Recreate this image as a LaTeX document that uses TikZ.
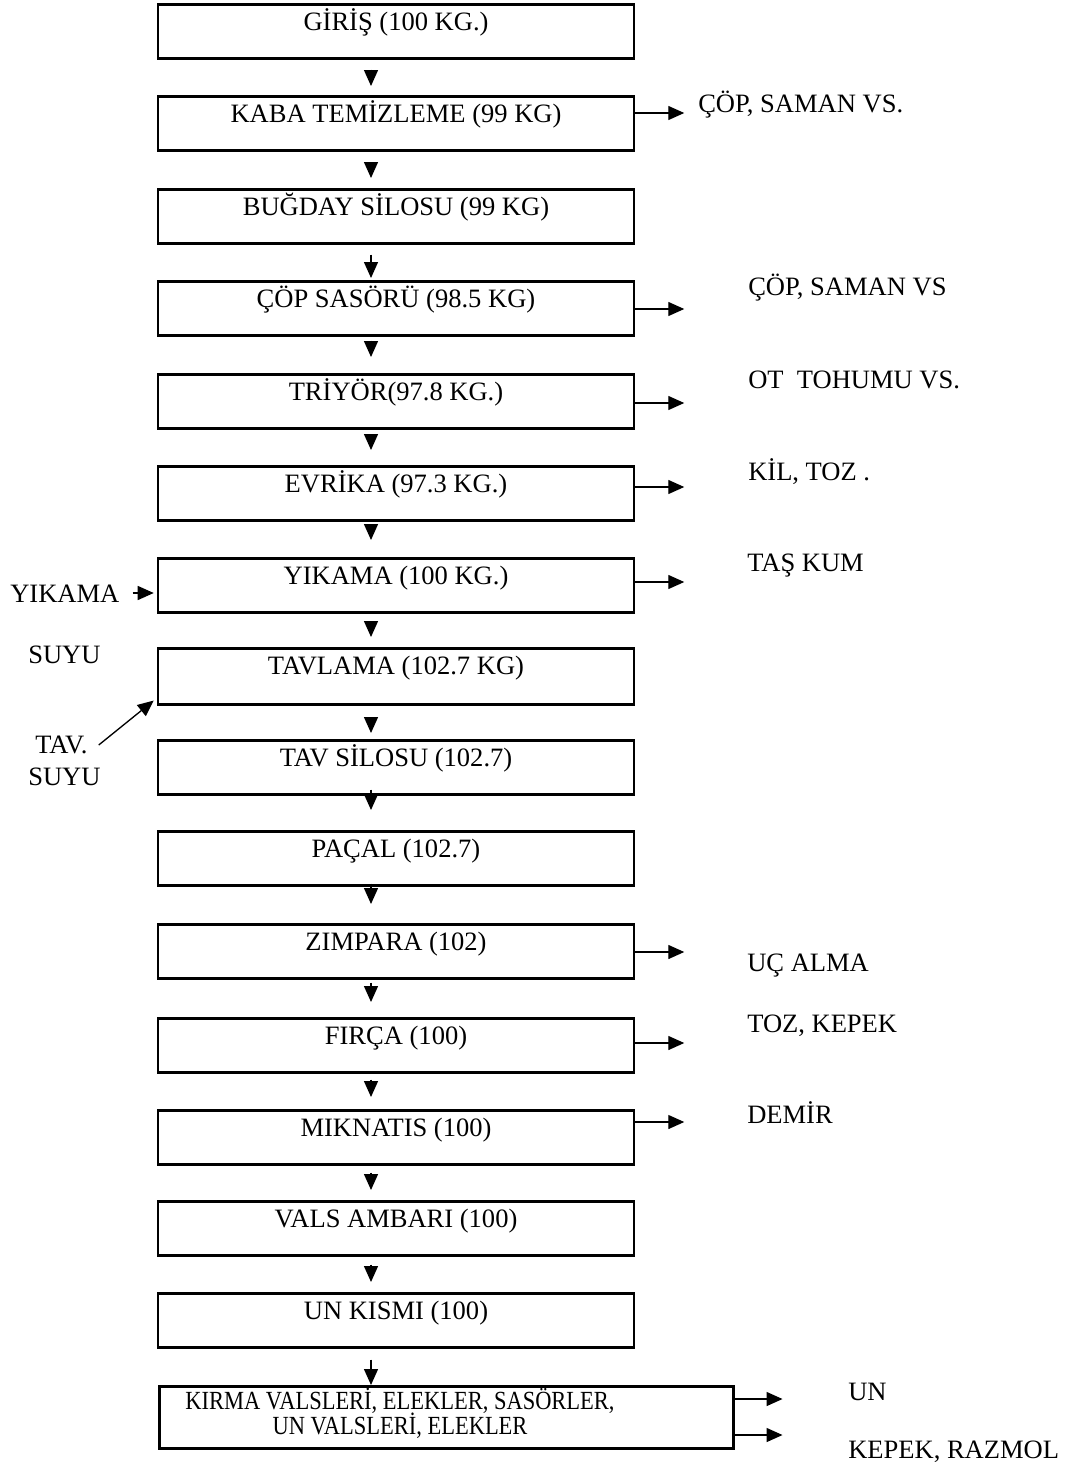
\documentclass[tikz,border=0pt]{standalone}
\usepackage{fontspec}
\setmainfont{Liberation Serif}
\newfontfamily\narrowserif[FakeStretch=0.86]{Liberation Serif}
\usetikzlibrary{arrows.meta,calc}
\begin{document}
\begin{tikzpicture}[x=0.75pt,y=-0.75pt,
  every node/.style={inner sep=0pt, font=\fontsize{19.9}{24}\selectfont},
  pbox/.style={draw, line width=1.9pt, minimum width=357pt, text height=19.5pt, text depth=21pt, anchor=north},
  arr/.style={line width=1pt, -{Triangle[length=12pt,width=10.5pt]}},
  side/.style={anchor=base west},
  small/.style={font=\narrowserif\fontsize{19.6}{24}\selectfont}]
\useasboundingbox (0,0) rectangle (1066,1467);
% boxes
\node[pbox] (b1) at (396,3) {GİRİŞ (100 KG.)};
\node[pbox] (b2) at (396,95) {KABA TEMİZLEME (99 KG)};
\node[pbox] (b3) at (396,188) {BUĞDAY SİLOSU (99 KG)};
\node[pbox] (b4) at (396,280) {ÇÖP SASÖRÜ (98.5 KG)};
\node[pbox] (b5) at (396,373) {TRİYÖR(97.8 KG.)};
\node[pbox] (b6) at (396,465) {EVRİKA (97.3 KG.)};
\node[pbox] (b7) at (396,557) {YIKAMA (100 KG.)};
\node[pbox, text depth=22.5pt] (b8) at (396,647) {TAVLAMA (102.7 KG)};
\node[pbox] (b9) at (396,739) {TAV SİLOSU (102.7)};
\node[pbox] (b10) at (396,830) {PAÇAL (102.7)};
\node[pbox] (b11) at (396,923) {ZIMPARA (102)};
\node[pbox] (b12) at (396,1017) {FIRÇA (100)};
\node[pbox] (b13) at (396,1109) {MIKNATIS (100)};
\node[pbox] (b14) at (396,1200) {VALS AMBARI (100)};
\node[pbox] (b15) at (396,1292) {UN KISMI (100)};
\node[draw, line width=1.9pt, minimum width=430.5pt, minimum height=46.5pt, anchor=north west] (b16) at (158,1385) {};
\node[anchor=base, small] (t16a) at (400,1409) {KIRMA VALSLERİ, ELEKLER, SASÖRLER,};
\node[anchor=base, small] (t16b) at (400,1434) {UN VALSLERİ, ELEKLER};
% down arrows
\draw[arr] ($(b1.south)+(-25,10)$) -- ($(b2.north)+(-25,-9)$);
\draw[arr] ($(b2.south)+(-25,11)$) -- ($(b3.north)+(-25,-10)$);
\draw[arr] ($(b3.south)+(-25,10)$) -- ($(b4.north)+(-25,-2)$);
\draw[arr] ($(b4.south)+(-25,4)$) -- ($(b5.north)+(-25,-16)$);
\draw[arr] ($(b5.south)+(-25,6)$) -- ($(b6.north)+(-25,-15)$);
\draw[arr] ($(b6.south)+(-25,4)$) -- ($(b7.north)+(-25,-17)$);
\draw[arr] ($(b7.south)+(-25,8)$) -- ($(b8.north)+(-25,-10)$);
\draw[arr] ($(b8.south)+(-25,12)$) -- ($(b9.north)+(-25,-6)$);
\draw[arr] ($(b9.south)+(-25,-6)$) -- ($(b10.north)+(-25,-20)$);
\draw[arr] ($(b10.south)+(-25,-3)$) -- ($(b11.north)+(-25,-19)$);
\draw[arr] ($(b11.south)+(-25,3)$) -- ($(b12.north)+(-25,-15)$);
\draw[arr] ($(b12.south)+(-25,6)$) -- ($(b13.north)+(-25,-12)$);
\draw[arr] ($(b13.south)+(-25,7)$) -- ($(b14.north)+(-25,-10)$);
\draw[arr] ($(b14.south)+(-25,8)$) -- ($(b15.north)+(-25,-10)$);
\draw[arr] ($(b15.south)+(-25,11)$) -- ($(b16.north west)+(213,0)$);
% right side outputs
\node[side] (r2) at (698,112) {ÇÖP, SAMAN VS.};
\node[side] (r4) at (748,295) {ÇÖP, SAMAN VS};
\node[side] (r5) at (748,388) {OT\ \ TOHUMU VS.};
\node[side] (r6) at (748,480) {KİL, TOZ .};
\node[side] (r7) at (747,571) {TAŞ KUM};
\node[side] (r11) at (747,971) {UÇ ALMA};
\node[side] (r12) at (747,1032) {TOZ, KEPEK};
\node[side] (r13) at (747,1123) {DEMİR};
\node[side] (r16a) at (848,1400) {UN};
\node[side] (r16b) at (848,1458) {KEPEK, RAZMOL};
\draw[arr] ($(b2.north east)+(0,18)$) -- ++(49,0);
\draw[arr] ($(b4.north east)+(0,29)$) -- ++(49,0);
\draw[arr] ($(b5.north east)+(0,30)$) -- ++(49,0);
\draw[arr] ($(b6.north east)+(0,22)$) -- ++(49,0);
\draw[arr] ($(b7.north east)+(0,25)$) -- ++(49,0);
\draw[arr] ($(b11.north east)+(0,29)$) -- ++(49,0);
\draw[arr] ($(b12.north east)+(0,26)$) -- ++(49,0);
\draw[arr] ($(b13.north east)+(0,13)$) -- ++(49,0);
\draw[arr] ($(b16.north east)+(0,14)$) -- ++(48,0);
\draw[arr] ($(b16.north east)+(0,50)$) -- ++(48,0);
% left side inputs
\node[side] (ly) at (10,602) {YIKAMA};
\node[side] (ls1) at (28,663) {SUYU};
\node[side] (lt) at (35,753) {TAV.};
\node[side] (ls2) at (28,785) {SUYU};
\draw[arr] ($(ly.base east)+(13,-9)$) -- ($(b7.north west)+(-3,36)$);
\draw[arr] ($(lt.base east)+(11,-8)$) -- ($(b8.south west)+(-3,-5)$);
\end{tikzpicture}
\end{document}
